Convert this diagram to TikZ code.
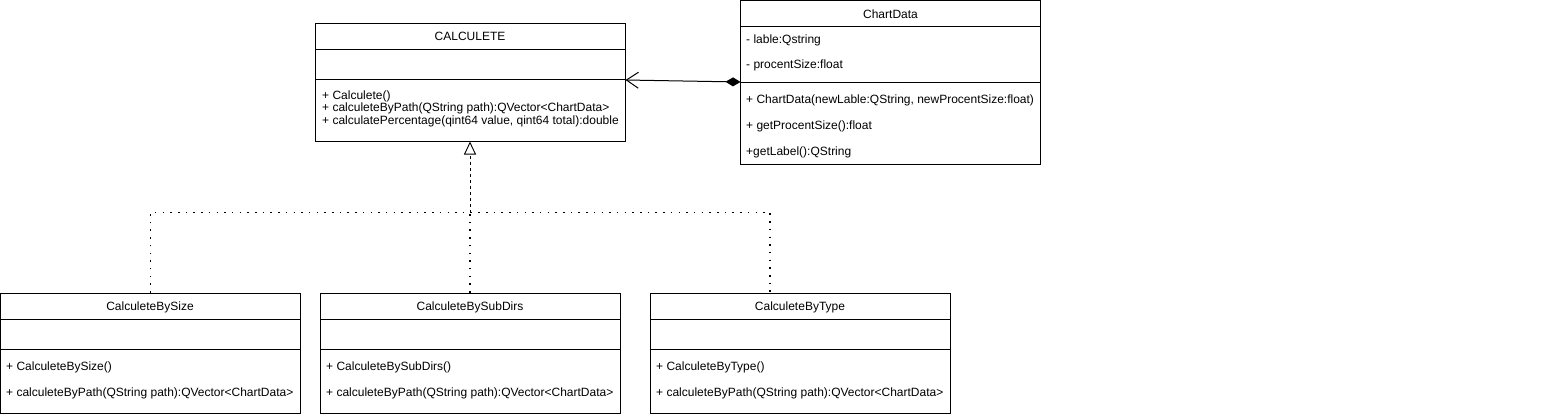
\documentclass[tikz,border=0pt]{standalone}
\usepackage{fontspec}
\setmainfont{Liberation Sans}
\usetikzlibrary{arrows.meta,calc}
\begin{document}
\begin{tikzpicture}[x=1pt,y=-1pt,
  classbox/.style={draw=black,line width=1pt,fill=white,inner sep=0pt},
  txt/.style={font=\fontsize{12}{14}\selectfont,inner sep=0pt,text=black},
  member/.style={txt,anchor=west},
  divider/.style={line width=1pt},
  dotline/.style={line width=1.5pt,dash pattern=on 1.5pt off 6.2pt},
  dashline/.style={line width=0.8pt,dash pattern=on 3pt off 3pt}]
\useasboundingbox (0,0) rectangle (1551,415);

% CALCULETE
\node[classbox,minimum width=310pt,minimum height=118pt] (calc) at (470,82) {};
\draw[divider] (315,49) -- (625,49);
\draw[divider] (315,79) -- (625,79);
\node[txt] (calct) at (470,36.5) {CALCULETE};
\node[member] (calcm1) at (322,96.5) {+ Calculete()};
\node[member] (calcm2) at (322,108.5) {+ calculeteByPath(QString path):QVector<ChartData>};
\node[member] (calcm3) at (322,121) {+ calculatePercentage(qint64 value, qint64 total):double};

% ChartData
\node[classbox,minimum width=300pt,minimum height=163.5pt] (chart) at (890.5,82.25) {};
\draw[divider] (740.5,26) -- (1040.5,26);
\draw[divider] (740.5,82) -- (1040.5,82);
\node[txt] (chartt) at (890.5,14.5) {ChartData};
\node[member] (chartf1) at (746,40.5) {- lable:Qstring};
\node[member] (chartf2) at (746,65.5) {- procentSize:float};
\node[member] (chartm1) at (746,100.5) {+ ChartData(newLable:QString, newProcentSize:float)};
\node[member] (chartm2) at (746,126.5) {+ getProcentSize():float};
\node[member] (chartm3) at (746,152.5) {+getLabel():QString};

% CalculeteBySize
\node[classbox,minimum width=299.5pt,minimum height=120pt] (sz) at (150.25,353) {};
\draw[divider] (0.5,319) -- (300,319);
\draw[divider] (0.5,349) -- (300,349);
\node[txt] (szt) at (150,307.5) {CalculeteBySize};
\node[member] (szm1) at (6,367.5) {+ CalculeteBySize()};
\node[member] (szm2) at (6,393.5) {+ calculeteByPath(QString path):QVector<ChartData>};

% CalculeteBySubDirs
\node[classbox,minimum width=300pt,minimum height=120pt] (sub) at (470,353) {};
\draw[divider] (320,319) -- (620,319);
\draw[divider] (320,349) -- (620,349);
\node[txt] (subt) at (470,307.5) {CalculeteBySubDirs};
\node[member] (subm1) at (326,367.5) {+ CalculeteBySubDirs()};
\node[member] (subm2) at (326,393.5) {+ calculeteByPath(QString path):QVector<ChartData>};

% CalculeteByType
\node[classbox,minimum width=300pt,minimum height=120pt] (typ) at (800,353) {};
\draw[divider] (650,319) -- (950,319);
\draw[divider] (650,349) -- (950,349);
\node[txt] (typt) at (800,307.5) {CalculeteByType};
\node[member] (typm1) at (656,367.5) {+ CalculeteByType()};
\node[member] (typm2) at (656,393.5) {+ calculeteByPath(QString path):QVector<ChartData>};

% connectors
\coordinate (typin) at (770,293);
\coordinate (join) at (470,213);
\draw[dotline] (sz.north) -- ++(0,-80) -| (typin);
\draw[dotline] (sub.north) -- (join);
\draw[dashline,-{Triangle[open,length=13pt,width=12pt,line width=0.9pt]}] (join) -- (calc.south);

% composition
\coordinate (chartin) at (740.5,82);
\draw[line width=1pt,{Straight Barb[length=12pt,width=16pt,line width=1pt]}-{Diamond[length=15pt,width=9pt]}] (calc.east |- 0,80) -- (chartin);
\end{tikzpicture}
\end{document}
